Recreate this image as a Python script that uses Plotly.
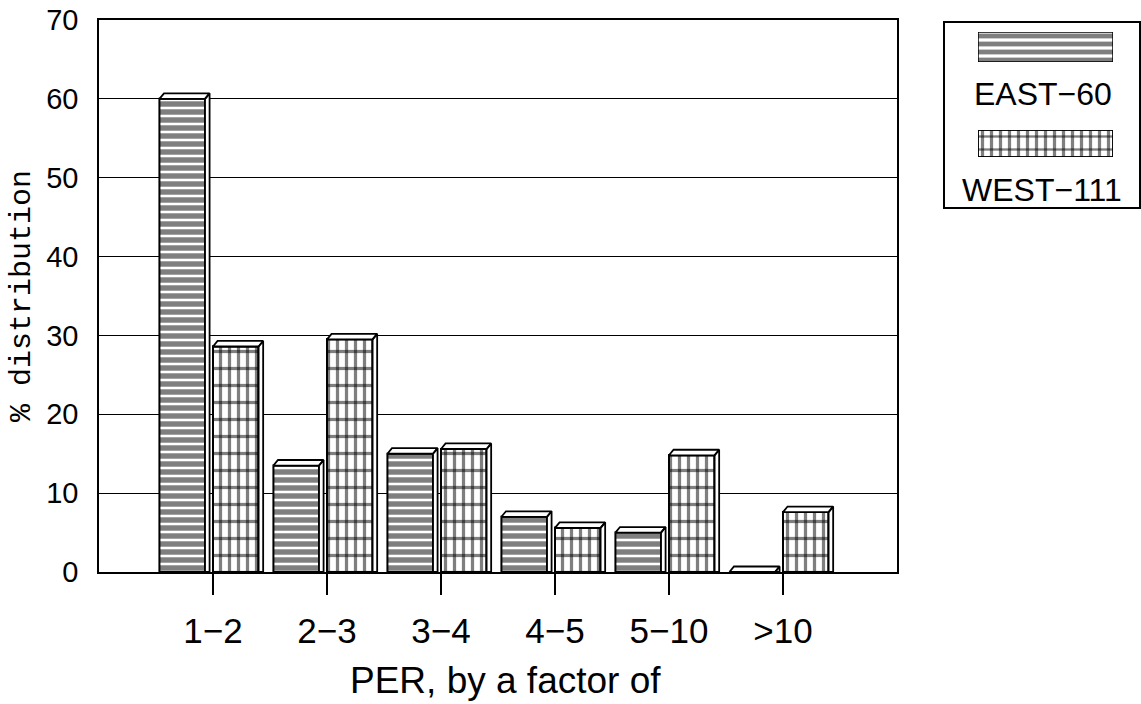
import plotly.graph_objects as go

# ---- data ----
categories = ["1−2", "2−3", "3−4", "4−5", "5−10", ">10"]
east_values = [60, 13.5, 15, 7, 5, 0]
west_values = [28.6, 29.5, 15.6, 5.6, 14.8, 7.6]
series_names = ["EAST−60", "WEST−111"]
y_ticks = [0, 10, 20, 30, 40, 50, 60, 70]

# ---- layout constants ----
W, H = 1141, 704
ML, MR, MT, MB = 99, 0, 20, 132
PW = W - ML - MR
PH = H - MT - MB
PLOT_RIGHT = 897

def px_x(p):
    return (p - ML) / PW

def px_y(p):
    return (H - MB - p) / PH

FONT = "Liberation Sans"
BAR_W = 0.40
EAST_OFF = -0.47
WEST_OFF = 0.0
DX, DY = 0.04, 0.7  # 3-D depth in data units

idx = list(range(len(categories)))

fig = go.Figure()

east_pattern = dict(shape="-", size=8, solidity=0.68, fgcolor="black", bgcolor="white")
west_v_pattern = dict(shape="|", size=9, solidity=0.36, fgcolor="black", bgcolor="white")
west_h_pattern = dict(shape="-", size=17, solidity=0.19, fgcolor="black", bgcolor="rgba(0,0,0,0)")

fig.add_trace(go.Bar(x=idx, y=east_values, width=BAR_W, offset=EAST_OFF,
                     marker=dict(color="black", pattern=east_pattern,
                                 line=dict(color="black", width=2)),
                     showlegend=False, hoverinfo="skip"))
fig.add_trace(go.Bar(x=idx, y=west_values, width=BAR_W, offset=WEST_OFF,
                     marker=dict(color="black", pattern=west_v_pattern,
                                 line=dict(color="black", width=2)),
                     showlegend=False, hoverinfo="skip"))
fig.add_trace(go.Bar(x=idx, y=west_values, width=BAR_W, offset=WEST_OFF,
                     marker=dict(color="rgba(0,0,0,0)", pattern=west_h_pattern,
                                 line=dict(color="black", width=2)),
                     showlegend=False, hoverinfo="skip"))

# 3-D caps and side faces derived from the data
def depth_polys(values, off):
    xs, ys = [], []
    for i, v in zip(idx, values):
        x0 = i + off
        x1 = x0 + BAR_W
        xs += [x0, x0 + DX, x1 + DX, x1, x0, None]
        ys += [v, v + DY, v + DY, v, v, None]
        xs += [x1, x1 + DX, x1 + DX, x1, x1, None]
        ys += [v, v + DY, 0, 0, v, None]
    return xs, ys

for vals, off in [(east_values, EAST_OFF), (west_values, WEST_OFF)]:
    xs, ys = depth_polys(vals, off)
    fig.add_trace(go.Scatter(x=xs, y=ys, mode="lines", fill="toself",
                             fillcolor="white", line=dict(color="black", width=1.8),
                             showlegend=False, hoverinfo="skip", cliponaxis=False))

# legend swatches on their own small axes
fig.add_trace(go.Bar(x=[1], y=[0], orientation="h", width=1, xaxis="x2", yaxis="y2",
                     marker=dict(color="black",
                                 pattern=dict(shape="-", size=8, solidity=0.6,
                                              fgcolor="black", bgcolor="white"),
                                 line=dict(color="black", width=1.5)),
                     showlegend=False, hoverinfo="skip"))
fig.add_trace(go.Bar(x=[1], y=[0], orientation="h", width=1, xaxis="x3", yaxis="y3",
                     marker=dict(color="black", pattern=west_v_pattern,
                                 line=dict(color="black", width=1.5)),
                     showlegend=False, hoverinfo="skip"))
fig.add_trace(go.Bar(x=[1], y=[0], orientation="h", width=1, xaxis="x3", yaxis="y3",
                     marker=dict(color="rgba(0,0,0,0)",
                                 pattern=dict(shape="-", size=13, solidity=0.18,
                                              fgcolor="black", bgcolor="rgba(0,0,0,0)"),
                                 line=dict(color="black", width=1.5)),
                     showlegend=False, hoverinfo="skip"))

sw_x = [px_x(978), px_x(1113)]
hidden = dict(visible=False, fixedrange=True)

fig.update_layout(
    width=W, height=H,
    margin=dict(l=ML, r=MR, t=MT, b=MB),
    paper_bgcolor="white", plot_bgcolor="white",
    barmode="overlay",
    font=dict(family=FONT, color="black"),
    xaxis=dict(domain=[0, px_x(PLOT_RIGHT)], range=[-1, len(categories)],
               tickmode="array", tickvals=idx, ticktext=categories,
               ticks="outside", ticklen=21, tickwidth=1.5, tickcolor="black",
               showgrid=False, zeroline=False, ticklabelstandoff=6,
               showline=True, linecolor="black", linewidth=2, mirror=True,
               tickfont=dict(family=FONT, size=35, color="black")),
    yaxis=dict(domain=[0, 1], range=[0, 70], tickmode="array", tickvals=y_ticks,
               showgrid=True, gridcolor="black", gridwidth=1, zeroline=False,
               showline=True, linecolor="black", linewidth=1.5, mirror=True,
               ticks="", ticklabelstandoff=13,
               tickfont=dict(family=FONT, size=29, color="black")),
    xaxis2=dict(domain=sw_x, range=[0, 1], anchor="y2", **hidden),
    yaxis2=dict(domain=[px_y(62), px_y(32)], range=[-0.5, 0.5], anchor="x2", **hidden),
    xaxis3=dict(domain=sw_x, range=[0, 1], anchor="y3", **hidden),
    yaxis3=dict(domain=[px_y(157), px_y(130)], range=[-0.5, 0.5], anchor="x3", **hidden),
    shapes=[dict(type="rect", xref="paper", yref="paper",
                 x0=px_x(944), x1=px_x(1140), y0=px_y(208), y1=px_y(22),
                 line=dict(color="black", width=2), fillcolor="rgba(0,0,0,0)", layer="below")],
    annotations=[
        dict(text=series_names[0], xref="paper", yref="paper", x=px_x(1043), y=px_y(94),
             showarrow=False, xanchor="center", yanchor="middle",
             font=dict(family=FONT, size=32, color="black")),
        dict(text=series_names[1], xref="paper", yref="paper", x=px_x(1042), y=px_y(190),
             showarrow=False, xanchor="center", yanchor="middle",
             font=dict(family=FONT, size=32, color="black")),
        dict(text="% distribution", xref="paper", yref="paper", x=px_x(22), y=0.5,
             textangle=-90, showarrow=False, xanchor="center", yanchor="middle",
             font=dict(family="Liberation Mono", size=30, color="black")),
        dict(text="PER, by a factor of", xref="paper", yref="paper", x=px_x(505), y=px_y(680),
             showarrow=False, xanchor="center", yanchor="middle",
             font=dict(family=FONT, size=37, color="black")),
    ],
)

fig.write_html("out.html")
